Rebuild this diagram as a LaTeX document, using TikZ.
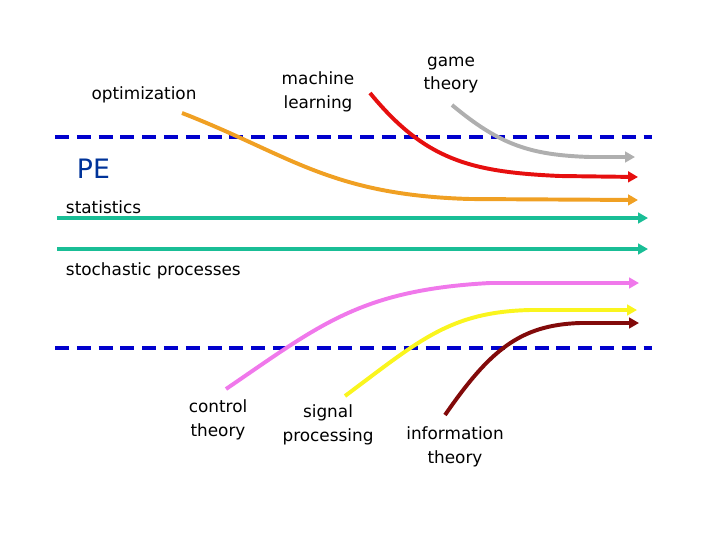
\documentclass[tikz,border=0pt]{standalone}
\usepackage{fontspec}
\setmainfont{DejaVu Sans}
\usetikzlibrary{arrows.meta}
\definecolor{peblue}{RGB}{0,0,205}
\definecolor{pename}{RGB}{0,51,153}
\definecolor{stat}{RGB}{25,190,150}
\definecolor{optim}{RGB}{240,160,35}
\definecolor{mlred}{RGB}{230,15,15}
\definecolor{game}{RGB}{175,175,175}
\definecolor{ctrl}{RGB}{240,120,235}
\definecolor{sig}{RGB}{250,245,30}
\definecolor{info}{RGB}{130,10,10}

\begin{document}
\begin{tikzpicture}[x=0.025cm,y=-0.025cm,
		flow/.style={line width=2.8pt,-{Triangle[length=7pt,width=7.5pt]}},
		bound/.style={peblue,line width=2.8pt,dash pattern=on 10pt off 5.5pt},
		lbl/.style={align=center,font=\fontsize{12}{17}\selectfont}]
		\useasboundingbox (0,0) rectangle (720,540);

		% borders of PE
		\coordinate (topL) at (55,137);
		\coordinate (topR) at (652,137);
		\coordinate (botL) at (55,348);
		\coordinate (botR) at (652,348);
		\draw[bound] (topL) -- (topR);
		\draw[bound] (botL) -- (botR);
		\node[pename,anchor=west,font=\fontsize{19}{22}\selectfont] (pe) at (72,169) {PE};

		% labels
		\node[lbl] (opt) at (144,95) {optimization};
		\node[lbl] (ml) at (318,92) {machine\\learning};
		\node[lbl] (gt) at (451,75) {game\\theory};
		\node[lbl,anchor=west] (st) at (61,207) {statistics};
		\node[lbl,anchor=west] (sp) at (61,271) {stochastic processes};
		\node[lbl] (ct) at (218,420) {control\\theory};
		\node[lbl] (sg) at (328,425) {signal\\processing};
		\node[lbl] (it) at (455,447) {information\\theory};

		% start and end points
		\coordinate (optS) at (182,113);
		\coordinate (optE) at (638,200);
		\coordinate (mlS) at (370,93);
		\coordinate (mlE) at (638,177);
		\coordinate (gtS) at (452,105);
		\coordinate (gtE) at (635,157);
		\coordinate (stS) at (57,218);
		\coordinate (stE) at (648,218);
		\coordinate (spS) at (57,249);
		\coordinate (spE) at (648,249);
		\coordinate (ctS) at (226,389);
		\coordinate (ctE) at (639,283);
		\coordinate (sgS) at (345,396);
		\coordinate (sgE) at (637,310);
		\coordinate (itS) at (445,415);
		\coordinate (itE) at (639,323);

		\draw[flow,stat] (stS) -- (stE);
		\draw[flow,stat] (spS) -- (spE);
		\draw[flow,optim] (optS) .. controls (290,155) and (330,195) .. (470,199) -- (optE);
		\draw[flow,mlred] (mlS) .. controls (425,160) and (470,172) .. (560,176) -- (mlE);
		\draw[flow,game] (gtS) .. controls (500,145) and (530,155) .. (590,157) -- (gtE);
		\draw[flow,ctrl] (ctS) .. controls (320,325) and (360,290) .. (490,283) -- (ctE);
		\draw[flow,sig] (sgS) .. controls (420,340) and (450,312) .. (530,310) -- (sgE);
		\draw[flow,info] (itS) .. controls (490,350) and (520,325) .. (580,323) -- (itE);
	\end{tikzpicture}
\end{document}
